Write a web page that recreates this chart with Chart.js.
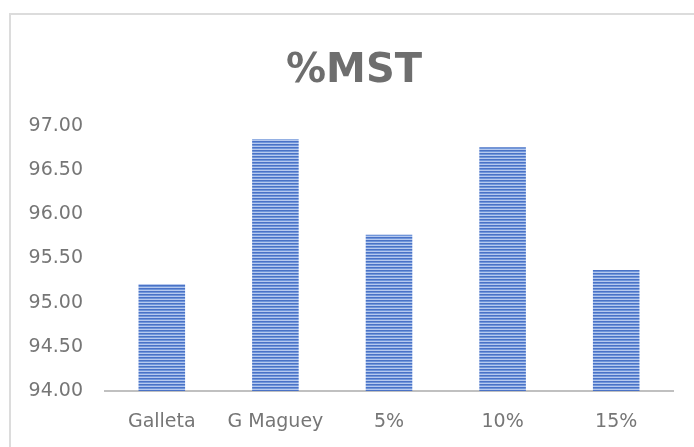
<!DOCTYPE html>
<html>
<head>
<meta charset="utf-8">
<script src="https://cdn.jsdelivr.net/npm/chart.js@4.4.0/dist/chart.umd.min.js"></script>
<style>
  html, body { margin: 0; padding: 0; background: #fff; }
  #wrap { position: relative; width: 694px; height: 447px; overflow: hidden; }
  /* marco del gráfico (solo se ve arriba y a la izquierda) */
  #frame { position: absolute; left: 9px; top: 13px; width: 720px; height: 480px;
           border-left: 2px solid #dcdcdc; border-top: 2px solid #dcdcdc; }
  canvas { position: absolute; left: 0; top: 0; }
</style>
</head>
<body>
<div id="wrap">
  <div id="frame"></div>
  <canvas id="chart" width="694" height="447"></canvas>
</div>
<script>
// Datos de %MST por muestra
const categorias = ['Galleta', 'G Maguey', '5%', '10%', '15%'];
const mst = [95.21, 96.85, 95.77, 96.76, 95.37];
const ejeMin = 94.00;
const ejeMax = 97.00;
const paso = 0.50;
const titulo = '%MST';

// Relleno de barras con rayas horizontales finas
function rayas() {
  const c = document.createElement('canvas');
  c.width = 4; c.height = 3;
  const g = c.getContext('2d');
  g.fillStyle = '#4a72c6'; g.fillRect(0, 0, 4, 1);
  g.fillStyle = '#7096da'; g.fillRect(0, 1, 4, 1);
  g.fillStyle = '#b6c9ee'; g.fillRect(0, 2, 4, 1);
  return g.createPattern(c, 'repeat');
}

const fuente = "'DejaVu Sans', sans-serif";
const gris = '#767676';

// Título centrado sobre el marco completo (que sigue más allá del borde derecho)
const tituloPlugin = {
  id: 'tituloMST',
  afterDraw(chart) {
    const ctx = chart.ctx;
    ctx.save();
    ctx.font = 'bold 40px ' + fuente;
    ctx.fillStyle = '#6e6e6e';
    ctx.textAlign = 'center';
    ctx.textBaseline = 'alphabetic';
    ctx.fillText(titulo, 354, 82);
    ctx.restore();
  }
};

new Chart(document.getElementById('chart'), {
  type: 'bar',
  data: {
    labels: categorias,
    datasets: [{
      label: titulo,
      data: mst,
      backgroundColor: rayas(),
      borderWidth: 0,
      categoryPercentage: 1,
      barPercentage: 0.41
    }]
  },
  options: {
    responsive: false,
    animation: false,
    layout: { padding: { left: 0, right: 21, top: 126, bottom: 0 } },
    plugins: {
      legend: { display: false },
      tooltip: { enabled: false },
      title: { display: false }
    },
    scales: {
      x: {
        grid: { display: false, drawTicks: false },
        border: { display: true, color: '#c0c0c0', width: 2 },
        ticks: { color: gris, font: { family: fuente, size: 19 }, padding: 20 },
        afterFit: s => { s.height = 56; }
      },
      y: {
        min: ejeMin,
        max: ejeMax,
        grid: { display: false, drawTicks: false },
        border: { display: false },
        ticks: {
          stepSize: paso,
          color: gris,
          font: { family: fuente, size: 19 },
          padding: 22,
          callback: v => v.toFixed(2)
        },
        afterFit: s => { s.width = 105; }
      }
    }
  },
  plugins: [tituloPlugin]
});
</script>
</body>
</html>
